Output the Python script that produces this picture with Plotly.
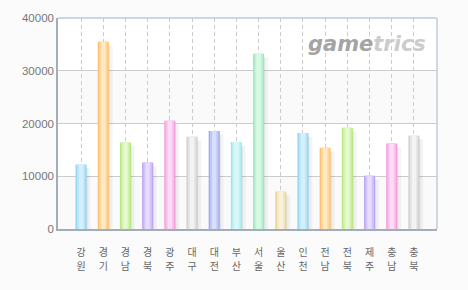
import plotly.graph_objects as go

regions = ["강원", "경기", "경남", "경북", "광주", "대구", "대전", "부산",
           "서울", "울산", "인천", "전남", "전북", "제주", "충남", "충북"]
values = [12200, 35500, 16400, 12600, 20500, 17500, 18600, 16500,
          33200, 7100, 18200, 15400, 19200, 10100, 16200, 17700]
y_ticks = [0, 10000, 20000, 30000, 40000]

edge_cycle = ["#94d3f1", "#fcc270", "#b8e783", "#bea5f1", "#f09fdd",
              "#cfcfcf", "#a0abed", "#98e8ee", "#96ecb9", "#e9d693"]
mid_cycle = ["#b8e5f9", "#fed79a", "#d1f1ad", "#d3c4f7", "#f6c0ea",
             "#e3e3e3", "#bfc7f4", "#bff2f5", "#bdf3d3", "#f3e6b9"]
hi_cycle = ["#d4f0fd", "#ffe8c4", "#e6f8d0", "#e6dcfb", "#fbdcf4",
            "#f3f3f3", "#d9defa", "#d9f8fa", "#d8f9e6", "#f9f1d9"]

n = len(regions)
edge = [edge_cycle[i % 10] for i in range(n)]
mid = [mid_cycle[i % 10] for i in range(n)]
hi = [hi_cycle[i % 10] for i in range(n)]
xs = list(range(n))
x_range = [-1.04, 16.04]

fig = go.Figure()
# shadows
shadow_vals = [v - 700 for v in values]
fig.add_bar(x=xs, y=shadow_vals, width=0.5, offset=-0.08,
            marker=dict(color="rgba(0,0,0,0.045)", line=dict(width=0)), hoverinfo="skip")
fig.add_bar(x=xs, y=shadow_vals, width=0.4, offset=-0.1,
            marker=dict(color="rgba(0,0,0,0.05)", line=dict(width=0)), hoverinfo="skip")
fig.add_bar(x=xs, y=shadow_vals, width=0.28, offset=-0.1,
            marker=dict(color="rgba(0,0,0,0.045)", line=dict(width=0)), hoverinfo="skip")
# bars with pseudo gradient
fig.add_bar(x=xs, y=values, width=0.5, marker=dict(color=edge, line=dict(width=0)))
fig.add_bar(x=xs, y=values, width=0.38, marker=dict(color=mid, line=dict(width=0)))
fig.add_bar(x=xs, y=values, width=0.2, marker=dict(color=hi, line=dict(width=0)))
# invisible trace for second label row axis
fig.add_scatter(x=xs, y=values, xaxis="x2", mode="markers",
                marker=dict(opacity=0), hoverinfo="skip")

shapes = [
    dict(type="rect", xref="paper", yref="y", x0=0, x1=1, y0=y_ticks[0], y1=y_ticks[1],
         fillcolor="#fafafa", line=dict(width=0), layer="below"),
    dict(type="rect", xref="paper", yref="y", x0=0, x1=1, y0=y_ticks[2], y1=y_ticks[3],
         fillcolor="#fafafa", line=dict(width=0), layer="below"),
    dict(type="line", xref="paper", yref="paper", x0=0, x1=1, y0=1, y1=1,
         line=dict(color="#b5cbe0", width=1.5)),
    dict(type="line", xref="paper", yref="paper", x0=1, x1=1, y0=0, y1=1,
         line=dict(color="#c3cdd8", width=1.5)),
]

label_font = dict(family="Noto Sans CJK KR", size=10, color="#666666")

fig.update_layout(
    width=468, height=290,
    margin=dict(l=58, r=31, t=16, b=61),
    paper_bgcolor="#fbfbfb", plot_bgcolor="#ffffff",
    barmode="overlay", showlegend=False,
    shapes=shapes,
    font=dict(family="Liberation Sans, Arial", color="#777777"),
    annotations=[dict(
        xref="paper", yref="paper", x=0.975, y=0.875, xanchor="right", yanchor="middle",
        text="<b><i><span style='color:#a4a4a4'>game</span><span style='color:#cccccc'>trics</span></i></b>",
        showarrow=False, font=dict(size=21, family="DejaVu Sans"))],
    xaxis=dict(
        range=x_range, tickmode="array", tickvals=xs,
        ticktext=[r[0] for r in regions], tickfont=label_font,
        ticks="outside", ticklen=13, tickcolor="rgba(0,0,0,0)",
        showgrid=True, gridcolor="#cccccc", griddash="4px,3px", gridwidth=1,
        showline=True, linecolor="#a3adb8", linewidth=1.5, zeroline=False,
    ),
    xaxis2=dict(
        range=x_range, overlaying="x", anchor="y", side="bottom",
        tickmode="array", tickvals=xs,
        ticktext=[r[1] for r in regions], tickfont=label_font,
        ticks="outside", ticklen=28, tickcolor="rgba(0,0,0,0)",
        showgrid=False, showline=False, zeroline=False,
    ),
    yaxis=dict(
        range=[0, 40000], tickvals=y_ticks, ticktext=[str(t) for t in y_ticks],
        tickfont=dict(size=11.5, color="#777777"),
        showgrid=True, gridcolor="#cccccc", gridwidth=1,
        showline=True, linecolor="#a3adb8", linewidth=1.5, zeroline=False,
        ticks="",
    ),
)

fig.write_html("out.html")
